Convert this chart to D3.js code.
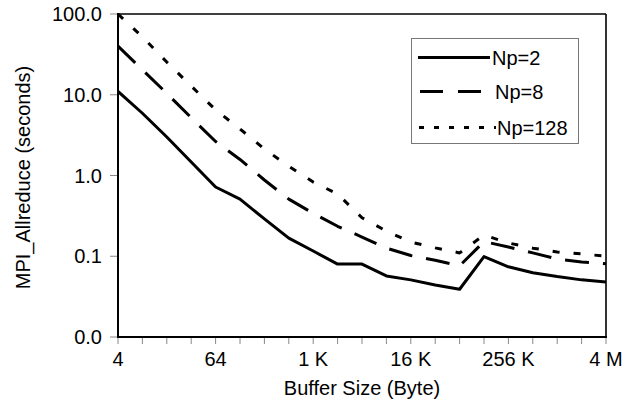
<!DOCTYPE html>
<html>
<head>
<meta charset="utf-8">
<script src="https://cdn.jsdelivr.net/npm/d3@7/dist/d3.min.js"></script>
<style>
  html, body { margin: 0; padding: 0; background: #fff; }
  svg { display: block; font-family: "Liberation Sans", Arial, sans-serif; }
</style>
</head>
<body>
<svg id="chart" width="639" height="409"></svg>
<script>
// ---- data ----
const bufferSizes = [4, 8, 16, 32, 64, 128, 256, 512, 1024, 2048, 4096, 8192, 16384, 32768,
  65536, 131072, 262144, 524288, 1048576, 2097152, 4194304];
const np2 = [11, 5.9, 3.0, 1.47, 0.72, 0.51, 0.29, 0.168, 0.116, 0.080, 0.080, 0.057, 0.051,
  0.044, 0.039, 0.099, 0.074, 0.0625, 0.056, 0.051, 0.048];
const np8 = [40, 20.4, 10.4, 5.2, 2.64, 1.58, 0.88, 0.51, 0.34, 0.235, 0.173, 0.126, 0.102,
  0.089, 0.076, 0.152, 0.130, 0.110, 0.0925, 0.085, 0.081];
const np128 = [100, 52, 25.4, 12.8, 6.5, 3.77, 2.13, 1.3, 0.83, 0.59, 0.30, 0.205, 0.15,
  0.127, 0.11, 0.183, 0.146, 0.126, 0.113, 0.107, 0.100];
const seriesNames = ["Np=2", "Np=8", "Np=128"];
const xTickValues = [4, 64, 1024, 16384, 262144, 4194304];
const xTickLabels = ["4", "64", "1 K", "16 K", "256 K", "4 M"];
const yTickValues = [0.01, 0.1, 1, 10, 100];
const yTickLabels = ["0.0", "0.1", "1.0", "10.0", "100.0"];

// ---- layout ----
const svg = d3.select("#chart");
const L = 118, R = 606, T = 14, B = 337;
const x = d3.scaleLog().base(2).domain([4, 4194304]).range([L, R]);
const y = d3.scaleLog().domain([0.01, 100]).range([B, T]);

const styles = [
  { dash: null, width: 3 },
  { dash: "24,14", width: 3 },
  { dash: "7,14", width: 3 }
];
const legendDash = [null, "23,15", "5,10"];

// ticks
const gx = svg.append("g");
bufferSizes.forEach(v => {
  gx.append("line").attr("x1", x(v)).attr("x2", x(v)).attr("y1", B).attr("y2", B + 7)
    .attr("stroke", "#888").attr("stroke-width", 1);
});
xTickValues.forEach((v, i) => {
  gx.append("text").attr("x", x(v)).attr("y", 366).attr("text-anchor", "middle")
    .attr("font-size", 20).attr("fill", "#000").text(xTickLabels[i]);
});
const gy = svg.append("g");
yTickValues.forEach((v, i) => {
  gy.append("line").attr("x1", L - 8).attr("x2", L).attr("y1", y(v)).attr("y2", y(v))
    .attr("stroke", "#888").attr("stroke-width", 1);
  gy.append("text").attr("x", 102).attr("y", y(v) + 7).attr("text-anchor", "end")
    .attr("font-size", 20).attr("fill", "#000").text(yTickLabels[i]);
});

// lines
const data = [np2, np8, np128];
const line = d3.line().x((d, i) => x(bufferSizes[i])).y(d => y(d));
const clip = svg.append("clipPath").attr("id", "clip").append("rect")
  .attr("x", L).attr("y", T - 2).attr("width", R - L).attr("height", B - T + 2);
data.forEach((s, k) => {
  const p = svg.append("path").datum(s).attr("d", line)
    .attr("fill", "none").attr("stroke", "#000")
    .attr("stroke-width", styles[k].width).attr("stroke-linejoin", "round")
    .attr("clip-path", "url(#clip)");
  if (styles[k].dash) p.attr("stroke-dasharray", styles[k].dash);
});

// frame
svg.append("line").attr("x1", L).attr("x2", R).attr("y1", T).attr("y2", T)
  .attr("stroke", "#000").attr("stroke-width", 1.6);
svg.append("line").attr("x1", R).attr("x2", R).attr("y1", T).attr("y2", B)
  .attr("stroke", "#000").attr("stroke-width", 1.6);
svg.append("line").attr("x1", L).attr("x2", L).attr("y1", T - 1).attr("y2", B + 1)
  .attr("stroke", "#000").attr("stroke-width", 2);
svg.append("line").attr("x1", L - 1).attr("x2", R + 1).attr("y1", B).attr("y2", B)
  .attr("stroke", "#000").attr("stroke-width", 2);

// axis titles
svg.append("text").attr("x", L + (R - L) / 2).attr("y", 395).attr("text-anchor", "middle")
  .attr("font-size", 20).attr("fill", "#000").text("Buffer Size (Byte)");
svg.append("text").attr("transform", `translate(30,${(T + B) / 2 + 2}) rotate(-90)`)
  .attr("text-anchor", "middle").attr("font-size", 20).attr("fill", "#000")
  .text("MPI_Allreduce (seconds)");

// legend
const lg = svg.append("g");
lg.append("rect").attr("x", 411.5).attr("y", 38.5).attr("width", 167).attr("height", 105)
  .attr("fill", "#fff").attr("stroke", "#777").attr("stroke-width", 1);
const legY = [57.5, 91.5, 127.5];
const legLine = [[418, 490], [420, 484], [419, 496]];
const legText = [492, 495, 497];
seriesNames.forEach((n, k) => {
  const ln = lg.append("line").attr("x1", legLine[k][0]).attr("x2", legLine[k][1])
    .attr("y1", legY[k]).attr("y2", legY[k]).attr("stroke", "#000").attr("stroke-width", 3);
  if (legendDash[k]) ln.attr("stroke-dasharray", legendDash[k]);
  lg.append("text").attr("x", legText[k]).attr("y", legY[k] + 7).attr("font-size", 20)
    .attr("fill", "#000").text(n);
});
</script>
</body>
</html>
